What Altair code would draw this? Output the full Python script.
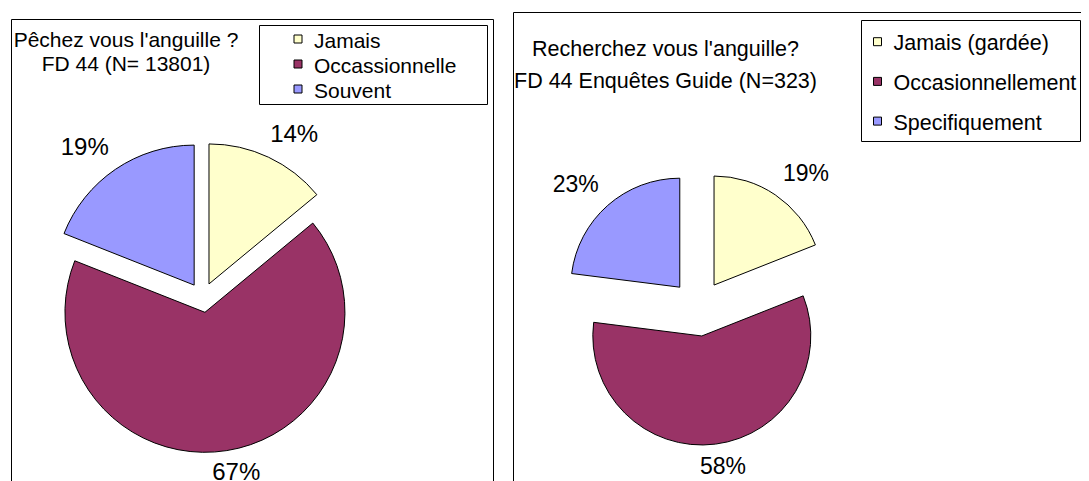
import altair as alt
import pandas as pd

# ---- data ----
left_categories = ["Jamais", "Occassionnelle", "Souvent"]
left_values = [14, 67, 19]
left_title = ["Pêchez vous l'anguille ?", "FD 44 (N= 13801)"]

right_categories = ["Jamais (gardée)", "Occasionnellement", "Specifiquement"]
right_values = [19, 58, 23]
right_title = ["Recherchez vous l'anguille?", "FD 44 Enquêtes Guide (N=323)"]

colors = ["#FFFFCC", "#993366", "#9999FF"]

FONT = "Liberation Sans"
one = pd.DataFrame({"k": [0]})


def box(x, x2, y, y2):
    return alt.Chart(one).mark_rect(fill="white", stroke="black", strokeWidth=1).encode(
        x=alt.value(x), x2=alt.value(x2), y=alt.value(y), y2=alt.value(y2)
    )


def title(lines, cx, y0, dy, fs):
    df = pd.DataFrame({"t": lines, "i": list(range(len(lines)))})
    return alt.Chart(df).transform_calculate(yb=f"{y0}+{dy}*datum.i").mark_text(
        align="center", baseline="alphabetic", fontSize=fs, font=FONT, color="black"
    ).encode(x=alt.value(cx), y=alt.Y("yb:Q", scale=None, axis=None), text="t:N")


def pie(cats, vals, cx, cy, R, d, fs, g=12):
    df = pd.DataFrame({"cat": cats, "val": vals, "idx": list(range(len(cats)))})
    base = (
        alt.Chart(df)
        .transform_window(cum="sum(val)", sort=[alt.SortField("idx", order="ascending")], frame=[None, 0])
        .transform_joinaggregate(total="sum(val)")
        .transform_calculate(t1="2*PI*datum.cum/datum.total")
        .transform_calculate(t0="2*PI*(datum.cum-datum.val)/datum.total")
        .transform_calculate(mid="(datum.t0+datum.t1)/2")
        .transform_calculate(ax=f"{cx}+{d}*sin(datum.mid)")
        .transform_calculate(ay=f"{cy}-{d}*cos(datum.mid)")
        .transform_calculate(lx=f"datum.ax+{R + g}*sin(datum.mid)+24*clamp(2*sin(datum.mid),-1,1)")
        .transform_calculate(ly=f"datum.ay-{R + g}*cos(datum.mid)-11*clamp(2*cos(datum.mid),-1,1)")
        .transform_calculate(label="datum.val+'%'")
    )
    arcs = base.mark_arc(radius=R, stroke="black", strokeWidth=1).encode(
        theta=alt.Theta("t0:Q", scale=None),
        theta2="t1:Q",
        x=alt.X("ax:Q", scale=None, axis=None),
        y=alt.Y("ay:Q", scale=None, axis=None),
        color=alt.Color("idx:N", scale=alt.Scale(domain=[0, 1, 2], range=colors), legend=None),
    )
    labels = base.mark_text(fontSize=fs, font=FONT, color="black", baseline="middle", align="center").encode(
        x=alt.X("lx:Q", scale=None, axis=None),
        y=alt.Y("ly:Q", scale=None, axis=None),
        text="label:N",
    )
    return [arcs, labels]


def legend(cats, xs, y0, dy, xt, fs):
    df = pd.DataFrame({"cat": cats, "idx": list(range(len(cats)))})
    base = alt.Chart(df).transform_calculate(yc=f"{y0}+{dy}*datum.idx").transform_calculate(
        yb="datum.yc+8.5"
    )
    sw = base.mark_square(size=64, filled=True, stroke="black", strokeWidth=1, opacity=1).encode(
        x=alt.value(xs),
        y=alt.Y("yc:Q", scale=None, axis=None),
        color=alt.Color("idx:N", scale=alt.Scale(domain=[0, 1, 2], range=colors), legend=None),
    )
    tx = base.mark_text(align="left", baseline="alphabetic", fontSize=fs, font=FONT, color="black").encode(
        x=alt.value(xt), y=alt.Y("yb:Q", scale=None, axis=None), text="cat:N"
    )
    return [sw, tx]


layers = [
    box(3.5, 485.5, 11.5, 700),
    box(505.5, 1300, 4.5, 700),
    box(251.5, 479.5, 17.5, 96.5),
    box(853.5, 1072.5, 12.5, 133.5),
    title(left_title, 118, 39, 24.3, 21),
    title(right_title, 657.5, 48, 32, 21.5),
]
layers += legend(left_categories, 290, 31, 25, 306, 21)
layers += legend(right_categories, 869.5, 33.7, 39.7, 885.5, 21.5)
layers += pie(left_categories, left_values, 194.6, 289.5, 140, 15, 24)
layers += pie(right_categories, right_values, 690.3, 300.2, 109, 28, 23)

chart = (
    alt.layer(*layers)
    .properties(width=1073, height=473, padding=0, autosize=alt.AutoSizeParams(type="none"))
    .configure_view(stroke=None)
)

chart.save("out.html", embed_options={"renderer": "svg", "actions": False})
